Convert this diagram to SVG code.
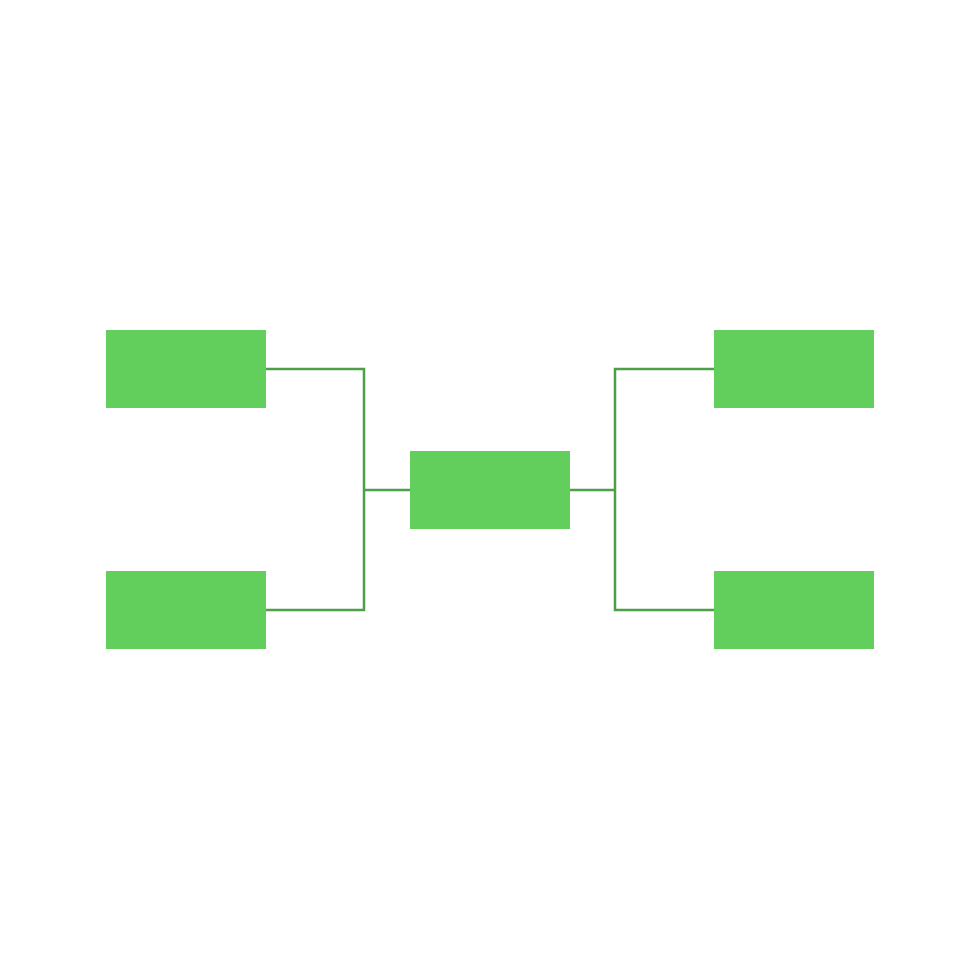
<svg xmlns="http://www.w3.org/2000/svg" width="980" height="980" viewBox="0 0 980 980">
<style>
.box{fill:#62ce5c}
.con{fill:none;stroke:#4d9f48;stroke-width:2.5}
</style>
<rect width="980" height="980" fill="#ffffff"/>
<g id="connectors">
<polyline class="con" points="266,369 364,369 364,610 266,610"/>
<line class="con" x1="364" y1="490" x2="410" y2="490"/>
<polyline class="con" points="714,369 615,369 615,610 714,610"/>
<line class="con" x1="570" y1="490" x2="615" y2="490"/>
</g>
<g id="node-tl"><rect class="box" x="106" y="330" width="160" height="78"/></g>
<g id="node-bl"><rect class="box" x="106" y="571" width="160" height="78"/></g>
<g id="node-center"><rect class="box" x="410" y="451" width="160" height="78"/></g>
<g id="node-tr"><rect class="box" x="714" y="330" width="160" height="78"/></g>
<g id="node-br"><rect class="box" x="714" y="571" width="160" height="78"/></g>
</svg>
